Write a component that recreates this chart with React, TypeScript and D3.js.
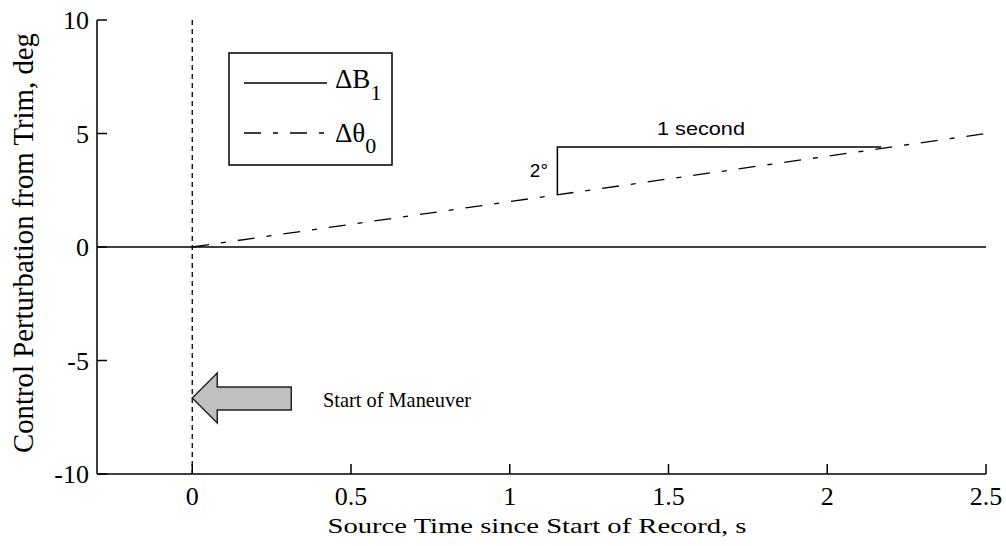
import React from 'react';
import * as d3 from 'd3';

// chart values
const timeTicks = [0, 0.5, 1, 1.5, 2, 2.5];
const timeTickLabels = ['0', '0.5', '1', '1.5', '2', '2.5'];
const valueTicks = [10, 5, 0, -5, -10];
const valueTickLabels = ['10', '5', '0', '-5', '-10'];

const b1Series: [number, number][] = [[-0.3, 0], [2.5, 0]];
const theta0Series: [number, number][] = [[0, 0], [2.5, 5]];
const maneuverLine: [number, number][] = [[0, 10], [0, -10]];
const slopeMarker: [number, number][] = [[1.15, 2.3], [1.15, 4.4], [2.17, 4.4]];
const arrowAt: [number, number] = [0, -6.65];

const W = 1006;
const H = 546;
const DASH_DOT = '17,12,5,12';
const serif = '"Liberation Serif", "Times New Roman", serif';
const sans = '"Liberation Sans", Arial, sans-serif';

export default function App() {
    const x = d3.scaleLinear().domain([-0.3, 2.5]).range([97, 986]);
    const y = d3.scaleLinear().domain([-10, 10]).range([474, 20]);

    const line = d3.line<[number, number]>()
        .x(d => x(d[0]))
        .y(d => y(d[1]));

    // arrow pointing at the start of the manoeuvre
    const ax = x(arrowAt[0]);
    const ay = y(arrowAt[1]);
    const arrow = [
        [ax, ay],
        [ax + 25, ay - 25],
        [ax + 25, ay - 11],
        [ax + 99, ay - 11],
        [ax + 99, ay + 12],
        [ax + 25, ay + 12],
        [ax + 25, ay + 25],
    ].map(p => p.join(',')).join(' ');

    return (
        <svg width={W} height={H} style={{ position: 'absolute', left: 0, top: 0, background: '#fff' }}>
            <rect width={W} height={H} fill="#fff" />

            {/* axes */}
            <line x1={97} x2={97} y1={y(10)} y2={y(-10)} stroke="#000" strokeWidth={1.5} />
            <line x1={97} x2={x(2.5)} y1={y(-10)} y2={y(-10)} stroke="#000" strokeWidth={1.5} />

            {valueTicks.map((v, i) => (
                <g key={'yt' + v}>
                    <line x1={97} x2={107} y1={y(v)} y2={y(v)} stroke="#000" strokeWidth={1.5} />
                    <text x={89} y={y(v)} dy="0.35em" textAnchor="end" fontFamily={serif} fontSize={26} fill="#000">
                        {valueTickLabels[i]}
                    </text>
                </g>
            ))}
            {timeTicks.map((t, i) => (
                <g key={'xt' + t}>
                    <line x1={x(t)} x2={x(t)} y1={y(-10)} y2={y(-10) - 10} stroke="#000" strokeWidth={1.5} />
                    <text x={x(t)} y={505} textAnchor="middle" fontFamily={serif} fontSize={26} fill="#000">
                        {timeTickLabels[i]}
                    </text>
                </g>
            ))}

            {/* axis labels */}
            <text x={537} y={533} textAnchor="middle" fontFamily={serif} fontSize={22}
                textLength={419} lengthAdjust="spacingAndGlyphs" fill="#000">
                Source Time since Start of Record, s
            </text>
            <g transform="translate(33,243) rotate(-90) scale(1,1.35)">
                <text x={0} y={0} textAnchor="middle" fontFamily={serif} fontSize={22}
                    textLength={420} lengthAdjust="spacingAndGlyphs" fill="#000">
                    Control Perturbation from Trim, deg
                </text>
            </g>

            {/* series */}
            <path d={line(maneuverLine) || ''} fill="none" stroke="#000" strokeWidth={1.3} strokeDasharray="5,4" />
            <path d={line(b1Series) || ''} fill="none" stroke="#000" strokeWidth={1.5} />
            <path d={line(theta0Series) || ''} fill="none" stroke="#000" strokeWidth={1.3} strokeDasharray={DASH_DOT} />

            {/* slope annotation */}
            <path d={line(slopeMarker) || ''} fill="none" stroke="#000" strokeWidth={1.5} />
            <text x={548} y={177} textAnchor="end" fontFamily={sans} fontSize={19} fill="#000">2°</text>
            <text x={701} y={135} textAnchor="middle" fontFamily={sans} fontSize={19}
                textLength={88} lengthAdjust="spacingAndGlyphs" fill="#000">1 second</text>

            {/* start of maneuver */}
            <polygon points={arrow} fill="#c0c0c0" stroke="#222" strokeWidth={1.5} />
            <text x={323} y={407} fontFamily={serif} fontSize={22}
                textLength={148} lengthAdjust="spacingAndGlyphs" fill="#000">Start of Maneuver</text>

            {/* legend */}
            <rect x={229} y={53} width={163} height={112} fill="#fff" stroke="#000" strokeWidth={1.5} />
            <line x1={244} x2={327} y1={83} y2={83} stroke="#000" strokeWidth={1.5} />
            <line x1={244} x2={327} y1={133} y2={133} stroke="#000" strokeWidth={1.3} strokeDasharray={DASH_DOT} />
            <text x={335} y={88} fontFamily={serif} fontSize={27} fill="#000">
                ΔB<tspan fontSize={22} dy={12}>1</tspan>
            </text>
            <text x={335} y={142} fontFamily={serif} fontSize={27} fill="#000">
                Δθ<tspan fontSize={22} dy={11}>0</tspan>
            </text>
        </svg>
    );
}
